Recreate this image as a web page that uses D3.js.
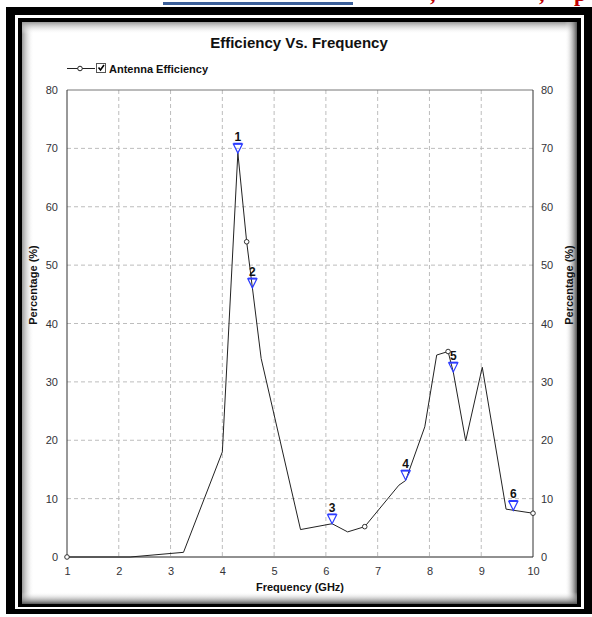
<!DOCTYPE html>
<html>
<head>
<meta charset="utf-8">
<script src="https://cdn.jsdelivr.net/npm/d3@7"></script>
<style>
  body { margin: 0; background: #fff; }
  svg { display: block; font-family: "Liberation Sans", Arial, sans-serif; }
</style>
</head>
<body>
<div id="chart"></div>
<script>
// data
const freq = [1, 2.22, 3.25, 4.0, 4.3, 4.47, 4.75, 5.51, 6.12, 6.42, 6.75,
              7.41, 7.54, 7.91, 8.14, 8.36, 8.46, 8.70, 9.02, 9.48, 10];
const eff  = [0, 0, 0.8, 18, 69.2, 54, 34, 4.7, 5.7, 4.3, 5.2,
              12.3, 13.1, 22.3, 34.6, 35.2, 31.7, 19.9, 32.5, 8.2, 7.5];
const markerFreq = [4.30, 4.58, 6.12, 7.54, 8.46, 9.62];
const markerVal  = [69.2, 46.1, 5.7, 13.2, 31.7, 8.0];
const markerName = ["1", "2", "3", "4", "5", "6"];
const xTicks = [1, 2, 3, 4, 5, 6, 7, 8, 9, 10];
const yTicks = [0, 10, 20, 30, 40, 50, 60, 70, 80];

let width = 592,
    height = 617;

const svg = d3.select("#chart")
  .append("svg")
  .attr("width", width)
  .attr("height", height);

// cut off bits of the page above the figure
svg.append("rect").attr("x", 163).attr("y", 2).attr("width", 190).attr("height", 3).attr("fill", "#3b5f99");
svg.append("text").attr("x", 430).attr("y", 1).attr("fill", "#c00000")
  .style("font", "bold 22px 'Liberation Serif'").text(",");
svg.append("text").attr("x", 539).attr("y", 1).attr("fill", "#c00000")
  .style("font", "bold 22px 'Liberation Serif'").text(",");
svg.append("text").attr("x", 574).attr("y", 1).attr("fill", "#c00000")
  .style("font", "bold 22px 'Liberation Serif'").text("p");

// frame
const defs = svg.append("defs");
function grad(id, x1, y1, x2, y2, c) {
  const g = defs.append("linearGradient").attr("id", id)
    .attr("x1", x1).attr("y1", y1).attr("x2", x2).attr("y2", y2);
  g.append("stop").attr("offset", "0%").attr("stop-color", c).attr("stop-opacity", 1);
  g.append("stop").attr("offset", "100%").attr("stop-color", "#fff").attr("stop-opacity", 0);
}
grad("gl", 0, 0, 1, 0, "#999");
grad("gt", 0, 0, 0, 1, "#999");
grad("gr", 1, 0, 0, 0, "#555");
grad("gb", 0, 1, 0, 0, "#555");

svg.append("rect").attr("x", 6).attr("y", 7).attr("width", 586).attr("height", 607).attr("fill", "#000");
svg.append("rect").attr("x", 15).attr("y", 15).attr("width", 569).attr("height", 594).attr("fill", "#fff");
svg.append("rect").attr("x", 18).attr("y", 18).attr("width", 563).attr("height", 589).attr("fill", "#000");
svg.append("rect").attr("x", 22).attr("y", 22).attr("width", 555).attr("height", 582).attr("fill", "#fff");
svg.append("rect").attr("x", 22).attr("y", 22).attr("width", 12).attr("height", 582).attr("fill", "url(#gl)");
svg.append("rect").attr("x", 22).attr("y", 22).attr("width", 555).attr("height", 12).attr("fill", "url(#gt)");
svg.append("rect").attr("x", 565).attr("y", 22).attr("width", 12).attr("height", 582).attr("fill", "url(#gr)");
svg.append("rect").attr("x", 22).attr("y", 592).attr("width", 555).attr("height", 12).attr("fill", "url(#gb)");

const x = d3.scaleLinear().domain([1, 10]).range([67, 533]);
const y = d3.scaleLinear().domain([0, 80]).range([557, 90]);

// grid
svg.selectAll(".vgrid")
  .data(xTicks.slice(1, -1))
  .enter().append("line")
  .attr("x1", function (d) { return x(d); })
  .attr("x2", function (d) { return x(d); })
  .attr("y1", y(80)).attr("y2", y(0))
  .attr("stroke", "#bdbdbd").attr("stroke-dasharray", "4,3");
svg.selectAll(".hgrid")
  .data(yTicks.slice(1, -1))
  .enter().append("line")
  .attr("x1", x(1)).attr("x2", x(10))
  .attr("y1", function (d) { return y(d); })
  .attr("y2", function (d) { return y(d); })
  .attr("stroke", "#bdbdbd").attr("stroke-dasharray", "4,3");

// plot border
svg.append("line").attr("x1", x(1)).attr("x2", x(10)).attr("y1", y(80)).attr("y2", y(80)).attr("stroke", "#777");
svg.append("line").attr("x1", x(1)).attr("x2", x(1)).attr("y1", y(80)).attr("y2", y(0)).attr("stroke", "#333");
svg.append("line").attr("x1", x(10)).attr("x2", x(10)).attr("y1", y(80)).attr("y2", y(0)).attr("stroke", "#333");
svg.append("line").attr("x1", x(1)).attr("x2", x(10)).attr("y1", y(0)).attr("y2", y(0)).attr("stroke", "#222");

// axes labels
const tickStyle = "11px 'Liberation Sans', Arial, sans-serif";
const xAxis = d3.axisBottom(x).tickValues(xTicks).tickSize(0).tickPadding(10).tickFormat(d3.format("d"));
const gx = svg.append("g").attr("transform", "translate(0," + y(0) + ")").call(xAxis);
const yLeft = d3.axisLeft(y).tickValues(yTicks).tickSize(0).tickPadding(9);
const gyl = svg.append("g").attr("transform", "translate(" + x(1) + ",0)").call(yLeft);
const yRight = d3.axisRight(y).tickValues(yTicks).tickSize(0).tickPadding(8);
const gyr = svg.append("g").attr("transform", "translate(" + x(10) + ",0)").call(yRight);
[gx, gyl, gyr].forEach(function (g) {
  g.select(".domain").remove();
  g.selectAll("text").style("font", tickStyle).attr("fill", "#333338");
});

// titles
svg.append("text").attr("x", 299).attr("y", 48).attr("text-anchor", "middle")
  .style("font", "bold 15px 'Liberation Sans', Arial, sans-serif").attr("fill", "#111")
  .text("Efficiency Vs. Frequency");
svg.append("text").attr("x", 300).attr("y", 591).attr("text-anchor", "middle")
  .style("font", "bold 11px 'Liberation Sans', Arial, sans-serif").attr("fill", "#111")
  .text("Frequency (GHz)");
svg.append("text").attr("transform", "translate(37,285) rotate(-90)").attr("text-anchor", "middle")
  .style("font", "bold 11px 'Liberation Sans', Arial, sans-serif").attr("fill", "#111")
  .text("Percentage (%)");
svg.append("text").attr("transform", "translate(573,285) rotate(-90)").attr("text-anchor", "middle")
  .style("font", "bold 11px 'Liberation Sans', Arial, sans-serif").attr("fill", "#111")
  .text("Percentage (%)");

// legend
svg.append("line").attr("x1", 67).attr("x2", 95).attr("y1", 68.5).attr("y2", 68.5).attr("stroke", "#222");
svg.append("circle").attr("cx", 80).attr("cy", 68.5).attr("r", 2.3).attr("fill", "#fff").attr("stroke", "#222");
svg.append("rect").attr("x", 96.5).attr("y", 63.5).attr("width", 9).attr("height", 9)
  .attr("fill", "#fff").attr("stroke", "#555");
svg.append("path").attr("d", "M98.5,67.5 L100.5,70 L104,65").attr("fill", "none")
  .attr("stroke", "#000").attr("stroke-width", 1.6);
svg.append("text").attr("x", 109).attr("y", 72.5)
  .style("font", "bold 11px 'Liberation Sans', Arial, sans-serif").attr("fill", "#111")
  .text("Antenna Efficiency");

// series
const pts = freq.map(function (f, i) { return [f, eff[i]]; });
const line = d3.line()
  .x(function (d) { return x(d[0]); })
  .y(function (d) { return y(d[1]); });
svg.append("path").datum(pts).attr("d", line)
  .attr("fill", "none").attr("stroke", "#222").attr("stroke-width", 1);

svg.selectAll(".dot")
  .data(pts.filter(function (d, i) { return i % 5 === 0; }))
  .enter().append("circle")
  .attr("cx", function (d) { return x(d[0]); })
  .attr("cy", function (d) { return y(d[1]); })
  .attr("r", 2.3).attr("fill", "#fff").attr("stroke", "#333");

// markers
const marks = markerFreq.map(function (f, i) { return { f: f, v: markerVal[i], name: markerName[i] }; });
const mk = svg.selectAll(".mk").data(marks).enter().append("g")
  .attr("transform", function (d) { return "translate(" + x(d.f) + "," + y(d.v) + ")"; });
mk.append("path").attr("d", "M-4.5,-9 L4.5,-9 L0,0 Z")
  .attr("fill", "none").attr("stroke", "#2b3bff").attr("stroke-width", 1.2);
mk.append("path").attr("d", "M-4.5,-9.5 L4.5,-9.5")
  .attr("stroke", "#2b3bff").attr("stroke-width", 1.6);
mk.append("text").attr("y", -12).attr("text-anchor", "middle")
  .style("font", "bold 12px 'Liberation Sans', Arial, sans-serif").attr("fill", "#111")
  .text(function (d) { return d.name; });
</script>
</body>
</html>
